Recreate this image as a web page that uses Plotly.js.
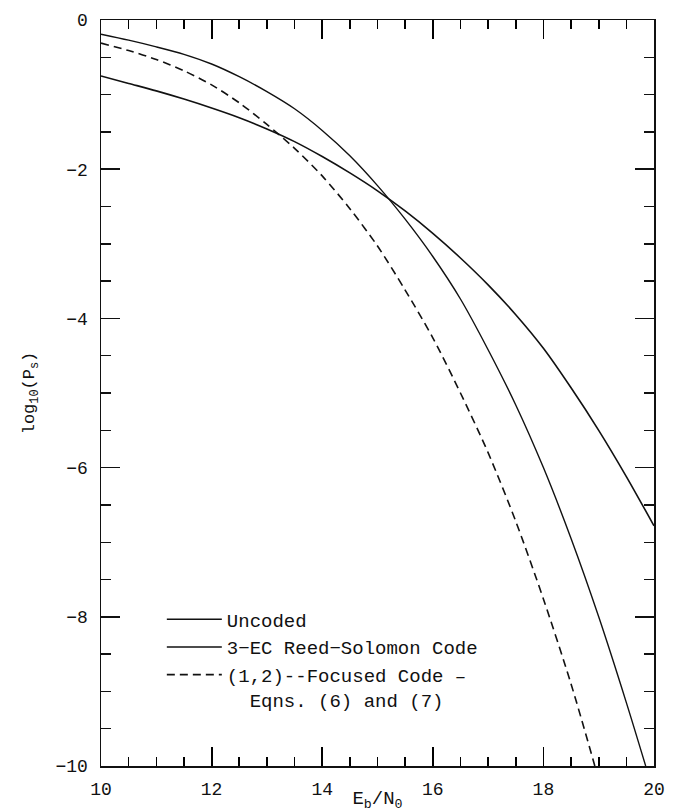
<!DOCTYPE html>
<html>
<head>
<meta charset="utf-8">
<script src="https://cdn.plot.ly/plotly-3.0.1.min.js"></script>
<style>
  html, body { margin: 0; padding: 0; background: #fff; }
  #chart { width: 675px; height: 812px; }
</style>
</head>
<body>
<div id="chart"></div>
<script>
// ---- data ----
const uncodedX = [10, 10.5, 11, 11.5, 12, 12.5, 13, 13.5, 14, 14.5, 15, 15.5, 16, 16.5, 17, 17.5, 18, 18.5, 19, 19.5, 20];
const uncodedY = [-0.75, -0.85, -0.95, -1.06, -1.18, -1.31, -1.46, -1.63, -1.83, -2.05, -2.29, -2.56, -2.86, -3.19, -3.55, -3.95, -4.40, -4.93, -5.50, -6.12, -6.78];

const rsX = [10, 10.5, 11, 11.5, 12, 12.5, 13, 13.5, 14, 14.5, 15, 15.5, 16, 16.5, 17, 17.5, 18, 18.5, 19, 19.5, 19.85];
const rsY = [-0.19, -0.27, -0.36, -0.46, -0.59, -0.76, -0.96, -1.19, -1.48, -1.82, -2.22, -2.67, -3.17, -3.74, -4.42, -5.16, -6.00, -6.95, -8.00, -9.15, -10.0];

const focusedX = [10, 10.5, 11, 11.5, 12, 12.5, 13, 13.5, 14, 14.5, 15, 15.5, 16, 16.5, 17, 17.5, 18, 18.5, 18.93];
const focusedY = [-0.31, -0.41, -0.53, -0.68, -0.87, -1.11, -1.40, -1.72, -2.09, -2.53, -3.03, -3.62, -4.26, -5.00, -5.80, -6.72, -7.76, -8.90, -10.0];

const seriesNames = [
  "Uncoded",
  "3\u2212EC Reed\u2212Solomon Code",
  "(1,2)--Focused Code \u2013<br>\u00a0\u00a0Eqns. (6) and (7)"
];

const xTickVals = [10, 12, 14, 16, 18, 20];
const xTickText = ["10", "12", "14", "16", "18", "20"];
const yTickVals = [0, -2, -4, -6, -8, -10];
const yTickText = ["0", "\u22122", "\u22124", "\u22126", "\u22128", "\u221210"];

const xTitle = "E<sub>b</sub>/N<sub>0</sub>";
const yTitle = "log<sub>10</sub>(P<sub>s</sub>)";

// ---- chart ----
const FONT = "Liberation Mono, DejaVu Sans Mono, monospace";
const INK = "#111";

const traces = [
  { x: uncodedX, y: uncodedY, name: seriesNames[0], mode: "lines",
    line: { color: INK, width: 1.6, shape: "spline", smoothing: 0.8 } },
  { x: rsX, y: rsY, name: seriesNames[1], mode: "lines",
    line: { color: INK, width: 1.4, shape: "spline", smoothing: 0.8 } },
  { x: focusedX, y: focusedY, name: seriesNames[2], mode: "lines",
    line: { color: INK, width: 1.6, dash: "8px,5px", shape: "spline", smoothing: 0.8 } }
];

const axisCommon = {
  showline: true, linecolor: INK, linewidth: 1.5, mirror: "allticks",
  ticks: "inside", ticklen: 19, tickwidth: 1.5, tickcolor: INK,
  showgrid: false, zeroline: false, tickmode: "array",
  tickfont: { family: FONT, size: 18, color: INK }
};

const layout = {
  width: 675, height: 812,
  paper_bgcolor: "#fff", plot_bgcolor: "#fff",
  margin: { l: 101, r: 21, t: 20, b: 46 },
  showlegend: true,
  legend: {
    x: 0.11, y: 0.222, xanchor: "left", yanchor: "top",
    bgcolor: "rgba(0,0,0,0)", borderwidth: 0, valign: "top",
    itemwidth: 55,
    font: { family: FONT, size: 19, color: INK }
  },
  xaxis: Object.assign({}, axisCommon, {
    range: [10, 20], tickvals: xTickVals, ticktext: xTickText,
    ticklabelstandoff: 6, tickwidth: 1.8, tickcolor: "#000",
    minor: { ticks: "inside", ticklen: 9, tickwidth: 1.6, tickcolor: "#000",
             tickmode: "linear", tick0: 10, dtick: 0.5, showgrid: false },
    title: { text: xTitle, standoff: 0, font: { family: FONT, size: 19, color: INK } }
  }),
  yaxis: Object.assign({}, axisCommon, {
    range: [-10, 0], tickvals: yTickVals, ticktext: yTickText,
    ticklabelstandoff: 8,
    minor: { ticks: "inside", ticklen: 10, tickwidth: 1.4, tickcolor: INK,
             tickmode: "linear", tick0: 0, dtick: 0.5, showgrid: false },
    title: { text: yTitle, standoff: 16, font: { family: FONT, size: 17, color: INK } }
  })
};

Plotly.newPlot("chart", traces, layout, { displayModeBar: false, staticPlot: true });
</script>
</body>
</html>
